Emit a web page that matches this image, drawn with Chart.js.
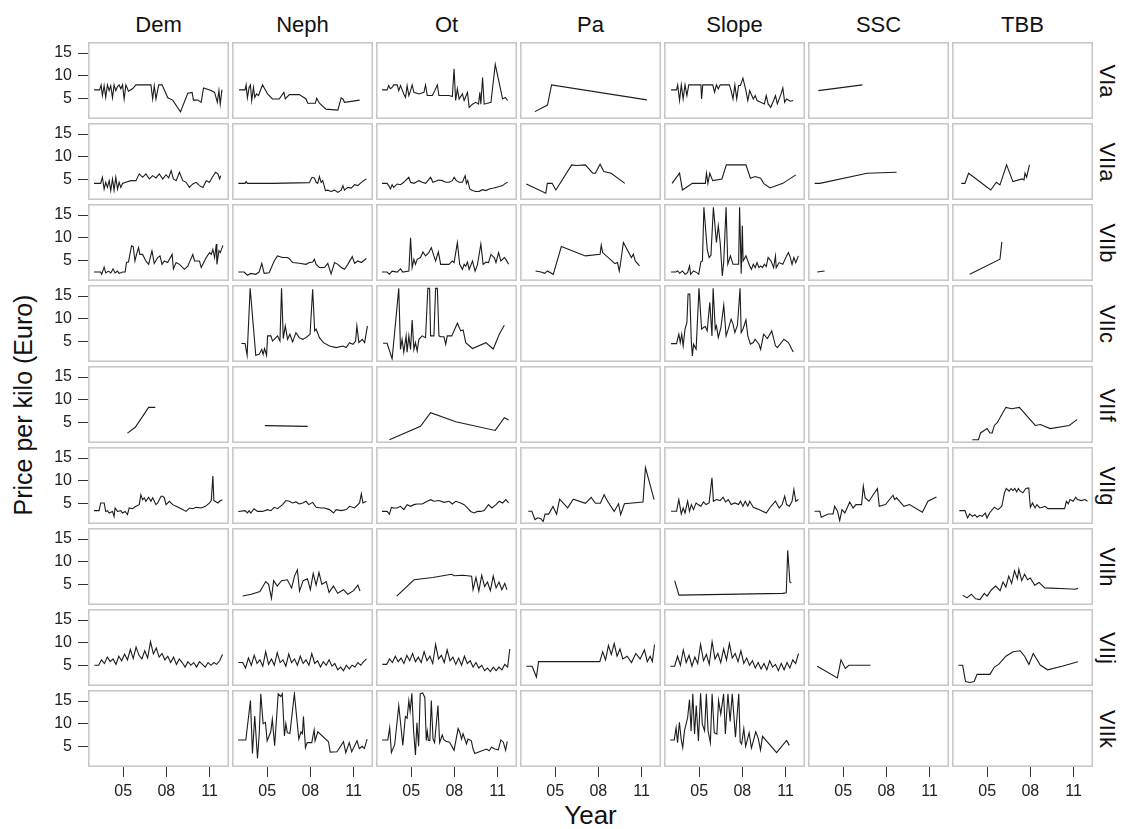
<!DOCTYPE html>
<html><head><meta charset="utf-8">
<script src="https://cdn.jsdelivr.net/npm/chart.js@4.4.1/dist/chart.umd.min.js"></script>
<style>
html,body{margin:0;padding:0;background:#fff;}
body{width:1123px;height:829px;position:relative;overflow:hidden;font-family:"Liberation Sans",Arial,sans-serif;color:#111;}
.lbl{position:absolute;white-space:nowrap;transform-origin:center center;line-height:1;}
.wrap{position:absolute;}
</style></head>
<body>
<script>
const columns = ["Dem","Neph","Ot","Pa","Slope","SSC","TBB"];
const rows = ["VIa","VIIa","VIIb","VIIc","VIIf","VIIg","VIIh","VIIj","VIIk"];
const yTicks = [5,10,15];
const xTicks = [2005,2008,2011];
const xTickLabels = ["05","08","11"];
const xTitle = "Year";
const yTitle = "Price per kilo (Euro)";

// ---- series: [year, price] ----
const Dem_VIa = [[2002.98,6.85],[2003.37,6.85],[2003.47,7.96],[2003.56,5.6],[2003.68,7.8],[2003.79,5.2],[2003.91,7.96],[2004.03,6.7],[2004.14,7.8],[2004.26,5.1],[2004.37,7.96],[2004.49,6.7],[2004.61,7.6],[2004.72,7.96],[2004.84,7.1],[2004.96,7.96],[2005.07,4.85],[2005.19,7.96],[2005.37,6.55],[2005.65,7.1],[2005.89,7.96],[2006.93,7.96],[2007.05,4.85],[2007.16,7.8],[2007.28,4.85],[2007.47,7.96],[2007.7,7.96],[2008.1,5.1],[2008.44,4.6],[2008.98,2.0],[2009.49,6.1],[2009.79,6.3],[2009.88,4.6],[2010.19,4.6],[2010.42,4.1],[2010.58,7.3],[2011.12,6.7],[2011.35,6.3],[2011.54,4.1],[2011.65,6.7],[2011.74,3.7],[2011.86,6.9]];
const Neph_VIa = [[2003.05,6.85],[2003.47,6.85],[2003.54,7.96],[2003.63,5.1],[2003.75,7.4],[2003.84,7.96],[2003.93,4.5],[2004.05,7.4],[2004.14,5.2],[2004.26,5.96],[2004.4,5.6],[2004.68,7.96],[2005.03,5.96],[2005.37,4.85],[2005.84,4.85],[2006.16,6.3],[2006.26,4.85],[2006.54,5.8],[2007.23,5.8],[2007.7,4.85],[2007.82,3.9],[2008.35,3.9],[2008.44,5.0],[2008.63,3.9],[2009.09,2.6],[2009.91,2.4],[2010.14,5.1],[2010.26,4.85],[2010.37,4.1],[2011.42,4.6]];
const Ot_VIa = [[2002.98,6.85],[2003.33,6.85],[2003.44,7.8],[2003.56,7.1],[2003.68,7.4],[2003.79,7.96],[2004.03,7.96],[2004.14,6.7],[2004.26,7.8],[2004.49,5.96],[2004.61,5.2],[2004.72,7.8],[2004.84,5.6],[2004.96,6.7],[2005.07,7.96],[2005.19,6.3],[2005.54,5.96],[2005.89,6.3],[2006.0,7.96],[2006.12,5.6],[2006.47,5.6],[2006.65,6.7],[2006.82,7.96],[2006.93,5.6],[2007.63,5.6],[2007.86,5.4],[2007.98,11.5],[2008.09,4.5],[2008.21,7.1],[2008.33,4.85],[2008.56,5.96],[2008.68,4.5],[2008.91,6.3],[2009.03,3.0],[2009.26,3.7],[2009.49,4.1],[2009.68,3.7],[2009.77,6.3],[2009.84,3.7],[2009.96,9.6],[2010.07,3.7],[2010.54,4.1],[2010.84,12.5],[2011.35,4.85],[2011.54,5.2],[2011.7,4.5]];
const Pa_VIa = [[2003.59,2.05],[2004.47,3.5],[2004.75,7.96],[2011.37,4.64]];
const Slope_VIa = [[2003.05,6.86],[2003.43,6.86],[2003.51,7.97],[2003.64,4.5],[2003.76,7.97],[2003.89,4.86],[2004.02,7.97],[2004.15,5.6],[2004.28,7.97],[2005.12,7.97],[2005.17,4.86],[2005.25,7.97],[2005.94,7.97],[2006.07,6.34],[2006.2,7.97],[2006.33,7.08],[2006.46,7.97],[2007.1,7.97],[2007.22,6.7],[2007.35,4.86],[2007.48,7.97],[2007.61,4.86],[2007.74,7.82],[2007.87,7.82],[2008.04,9.45],[2008.25,6.7],[2008.38,4.5],[2008.51,6.7],[2008.76,4.86],[2008.89,5.6],[2009.02,4.5],[2009.27,4.12],[2009.53,3.75],[2009.66,5.6],[2009.79,3.75],[2009.97,3.0],[2010.17,4.5],[2010.3,5.6],[2010.43,3.75],[2010.56,4.86],[2010.69,5.97],[2010.81,7.3],[2010.94,4.12],[2011.07,4.86],[2011.33,4.34],[2011.53,4.5]];
const SSC_VIa = [[2003.28,6.7],[2006.33,7.96]];

const Dem_VIIa = [[2002.98,4.1],[2003.44,4.1],[2003.56,5.44],[2003.68,2.85],[2003.79,4.33],[2003.91,3.2],[2004.03,4.7],[2004.14,2.5],[2004.26,5.07],[2004.37,2.6],[2004.49,5.44],[2004.61,2.85],[2004.72,4.33],[2004.84,3.2],[2004.96,4.1],[2005.19,4.33],[2005.54,4.7],[2005.89,4.7],[2006.12,6.2],[2006.35,5.44],[2006.58,6.2],[2006.82,5.07],[2007.05,5.8],[2007.28,5.3],[2007.51,6.2],[2007.75,5.07],[2007.98,6.0],[2008.16,5.3],[2008.33,6.9],[2008.49,5.07],[2008.68,4.7],[2008.91,6.55],[2009.14,4.7],[2009.37,4.33],[2009.6,3.2],[2009.84,3.96],[2010.07,4.33],[2010.3,3.6],[2010.54,3.2],[2010.77,4.7],[2011.0,4.33],[2011.19,5.44],[2011.42,6.55],[2011.58,6.2],[2011.7,5.07],[2011.77,5.8]];
const Neph_VIIa = [[2003.0,4.1],[2003.47,4.1],[2003.54,4.5],[2003.63,4.1],[2005.37,4.1],[2007.93,4.26],[2008.12,5.44],[2008.28,5.3],[2008.4,4.33],[2008.51,4.1],[2008.63,5.6],[2008.75,4.33],[2008.86,4.7],[2009.05,2.5],[2009.21,2.6],[2009.44,2.3],[2009.68,2.6],[2009.91,2.1],[2010.14,2.6],[2010.26,3.6],[2010.37,2.6],[2010.6,3.2],[2010.84,3.06],[2011.07,3.8],[2011.3,3.6],[2011.54,4.33],[2011.7,4.7],[2011.89,5.07]];
const Ot_VIIa = [[2002.98,4.1],[2003.33,4.1],[2003.44,3.6],[2003.56,2.85],[2003.68,3.8],[2003.79,3.2],[2004.03,3.96],[2004.26,3.8],[2004.49,4.33],[2004.65,4.85],[2004.84,5.44],[2004.96,4.33],[2005.19,4.1],[2005.54,4.7],[2005.77,4.33],[2006.0,4.1],[2006.35,5.44],[2006.51,4.33],[2006.7,4.55],[2006.93,4.85],[2007.16,4.7],[2007.4,4.33],[2007.63,4.33],[2007.86,4.7],[2007.98,5.44],[2008.14,4.7],[2008.33,4.33],[2008.56,4.33],[2008.75,5.8],[2008.84,4.1],[2008.93,4.7],[2009.07,2.85],[2009.26,2.5],[2009.49,2.3],[2009.72,2.33],[2009.96,2.7],[2010.19,2.5],[2010.42,2.85],[2010.65,3.0],[2010.89,3.2],[2011.12,3.4],[2011.35,3.6],[2011.54,4.1],[2011.7,4.33]];
const Pa_VIIa = [[2003.0,3.97],[2004.35,1.9],[2004.46,4.1],[2004.79,4.1],[2005.05,2.64],[2006.15,8.19],[2006.46,8.04],[2007.1,8.19],[2007.61,6.34],[2007.79,6.34],[2008.12,8.34],[2008.38,6.71],[2008.89,6.34],[2009.84,4.1]];
const Slope_VIIa = [[2003.12,4.1],[2003.64,6.34],[2003.84,2.64],[2004.53,4.1],[2005.43,4.1],[2005.51,6.34],[2005.61,4.1],[2005.74,6.34],[2005.94,4.71],[2006.58,5.08],[2006.89,8.19],[2008.25,8.19],[2008.56,5.23],[2008.89,5.6],[2009.27,5.23],[2009.48,4.1],[2009.92,3.08],[2010.81,4.1],[2011.71,5.97]];
const SSC_VIIa = [[2003.02,4.1],[2003.38,4.1],[2006.66,6.34],[2008.71,6.56]];
const TBB_VIIa = [[2003.2,4.1],[2003.46,4.1],[2003.71,6.34],[2005.25,2.64],[2005.64,4.34],[2005.89,3.75],[2006.35,8.19],[2006.79,4.49],[2007.43,5.08],[2007.56,4.86],[2007.63,6.34],[2007.74,5.45],[2007.94,8.19]];

const Dem_VIIb = [[2002.98,2.4],[2003.44,2.4],[2003.51,1.9],[2003.68,3.5],[2003.79,2.2],[2003.98,2.6],[2004.14,2.2],[2004.3,3.1],[2004.44,2.2],[2004.61,2.6],[2004.72,2.1],[2004.96,2.4],[2005.14,2.4],[2005.23,4.5],[2005.37,4.6],[2005.58,8.2],[2005.7,8.0],[2005.82,4.85],[2005.93,6.3],[2006.07,7.8],[2006.16,6.3],[2006.35,6.3],[2006.58,4.85],[2006.77,4.1],[2007.0,7.1],[2007.16,4.3],[2007.4,5.6],[2007.56,5.96],[2007.7,4.1],[2007.86,4.85],[2008.09,4.5],[2008.4,6.3],[2008.49,3.1],[2008.68,4.5],[2008.91,4.1],[2009.26,3.0],[2009.49,3.7],[2009.84,6.3],[2009.96,4.85],[2010.3,4.85],[2010.42,3.4],[2010.77,5.6],[2011.0,6.7],[2011.12,6.3],[2011.23,7.4],[2011.35,5.6],[2011.47,8.6],[2011.51,4.1],[2011.65,7.1],[2011.74,6.7],[2011.93,8.3]];
const Neph_VIIb = [[2003.0,2.4],[2003.4,2.4],[2003.63,1.7],[2003.86,2.1],[2004.21,1.9],[2004.44,2.4],[2004.63,4.3],[2004.79,2.1],[2005.14,2.26],[2005.49,4.85],[2005.72,5.96],[2006.07,5.6],[2006.42,5.6],[2006.58,5.2],[2006.77,4.5],[2007.23,4.33],[2007.7,4.1],[2007.93,4.5],[2008.16,4.6],[2008.28,5.2],[2008.4,4.1],[2008.63,3.4],[2008.98,3.4],[2009.21,4.33],[2009.44,2.0],[2009.68,4.5],[2009.91,4.1],[2010.14,3.4],[2010.37,3.0],[2010.6,4.1],[2010.91,5.8],[2011.07,4.33],[2011.3,4.85],[2011.54,4.5],[2011.89,5.4]];
const Ot_VIIb = [[2002.98,2.4],[2003.33,2.4],[2003.49,1.9],[2003.68,2.6],[2004.03,2.4],[2004.26,3.1],[2004.42,2.4],[2004.84,2.6],[2004.96,10.0],[2005.07,3.4],[2005.19,5.2],[2005.3,4.1],[2005.42,5.2],[2005.65,5.6],[2005.82,6.85],[2006.0,5.96],[2006.23,6.7],[2006.4,7.8],[2006.58,5.96],[2006.7,4.85],[2006.89,6.85],[2007.05,4.1],[2007.28,4.1],[2007.63,4.1],[2007.86,4.85],[2007.98,4.5],[2008.21,8.9],[2008.37,4.1],[2008.56,3.0],[2008.68,4.1],[2008.79,3.7],[2008.91,4.6],[2009.03,3.0],[2009.26,4.85],[2009.44,2.6],[2009.61,4.1],[2009.84,8.6],[2010.0,4.1],[2010.19,4.6],[2010.37,4.5],[2010.54,6.3],[2010.77,5.6],[2010.89,4.5],[2011.07,6.7],[2011.23,4.85],[2011.47,5.6],[2011.58,5.2],[2011.77,4.1]];
const Pa_VIIb = [[2003.64,2.64],[2004.02,2.42],[2004.28,2.12],[2004.46,2.64],[2004.87,1.9],[2005.43,8.04],[2007.1,5.97],[2008.12,6.34],[2008.2,8.34],[2008.3,6.71],[2009.15,4.27],[2009.33,4.49],[2009.45,2.64],[2009.53,4.12],[2009.74,8.93],[2010.17,6.34],[2010.3,5.6],[2010.43,6.34],[2010.56,4.86],[2010.86,3.75]];
const Slope_VIIb = [[2003.05,2.42],[2003.38,2.42],[2003.51,2.64],[2003.64,2.12],[2003.84,2.64],[2004.02,1.9],[2004.2,2.27],[2004.33,3.75],[2004.41,1.9],[2004.61,2.64],[2004.84,2.27],[2004.97,1.9],[2005.12,4.64],[2005.23,4.86],[2005.33,16.7],[2005.56,7.45],[2005.69,5.6],[2005.82,6.12],[2005.99,16.7],[2006.2,8.93],[2006.33,12.63],[2006.46,8.93],[2006.61,1.53],[2006.71,4.86],[2006.87,16.7],[2006.99,4.12],[2007.17,5.97],[2007.35,4.12],[2007.74,4.12],[2007.81,16.7],[2007.92,2.05],[2008.0,12.63],[2008.05,4.86],[2008.25,5.97],[2008.51,3.75],[2008.63,3.0],[2008.76,4.12],[2008.89,3.38],[2009.02,4.49],[2009.15,3.38],[2009.27,3.75],[2009.4,3.38],[2009.53,4.12],[2009.66,3.6],[2009.79,5.6],[2009.99,4.86],[2010.17,3.38],[2010.3,5.97],[2010.35,3.38],[2010.56,4.49],[2010.81,4.12],[2011.07,5.97],[2011.2,6.71],[2011.33,5.6],[2011.45,4.12],[2011.58,5.6],[2011.71,4.49],[2011.89,5.97]];
const SSC_VIIb = [[2003.2,2.42],[2003.71,2.64]];
const TBB_VIIb = [[2003.79,1.9],[2005.89,5.23],[2006.02,9.08]];

const Neph_VIIc = [[2003.21,4.5],[2003.47,4.5],[2003.61,1.9],[2003.82,16.7],[2004.21,1.9],[2004.44,2.1],[2004.63,3.2],[2004.72,2.1],[2004.82,3.4],[2004.96,1.9],[2005.03,6.2],[2005.26,6.2],[2005.37,5.07],[2005.49,5.44],[2005.72,6.2],[2005.89,5.07],[2006.0,16.7],[2006.12,5.6],[2006.26,8.4],[2006.42,5.44],[2006.58,6.55],[2006.77,4.85],[2007.0,6.9],[2007.23,5.8],[2007.47,5.44],[2007.7,5.8],[2007.98,6.55],[2008.16,16.5],[2008.3,7.3],[2008.4,7.7],[2008.63,5.8],[2008.91,4.7],[2009.33,3.96],[2009.79,3.6],[2010.26,3.96],[2010.49,3.6],[2010.72,4.7],[2010.96,4.33],[2011.14,5.07],[2011.23,8.4],[2011.37,4.7],[2011.6,5.44],[2011.77,4.7],[2011.96,8.4]];
const Ot_VIIc = [[2003.05,4.55],[2003.33,4.55],[2003.68,1.14],[2004.14,16.7],[2004.26,3.2],[2004.37,5.44],[2004.49,2.6],[2004.65,6.2],[2004.72,2.6],[2004.84,6.2],[2004.96,3.2],[2005.07,9.7],[2005.19,3.2],[2005.3,4.7],[2005.42,2.85],[2005.54,5.44],[2005.77,6.2],[2006.0,5.8],[2006.16,16.7],[2006.28,16.7],[2006.35,6.2],[2006.58,6.2],[2006.7,16.7],[2006.82,16.7],[2006.93,6.2],[2007.05,6.0],[2007.28,6.0],[2007.4,4.33],[2007.51,6.2],[2007.82,6.2],[2008.21,9.0],[2008.44,7.3],[2008.61,7.5],[2008.79,4.7],[2009.26,3.4],[2010.19,4.7],[2010.7,3.3],[2011.12,6.55],[2011.47,8.55]];
const Slope_VIIc = [[2003.05,4.49],[2003.43,4.49],[2003.59,6.56],[2003.69,4.71],[2003.79,6.56],[2003.89,4.0],[2004.02,7.67],[2004.15,9.15],[2004.23,15.44],[2004.35,15.44],[2004.46,4.71],[2004.53,1.75],[2004.61,4.34],[2004.79,3.23],[2004.99,16.7],[2005.17,7.67],[2005.3,8.04],[2005.43,8.26],[2005.56,7.3],[2005.74,13.59],[2005.89,6.19],[2005.97,16.7],[2006.12,7.67],[2006.2,8.41],[2006.33,5.82],[2006.51,8.04],[2006.71,13.0],[2006.87,6.19],[2007.02,7.67],[2007.22,9.89],[2007.35,8.78],[2007.48,6.93],[2007.66,8.56],[2007.84,16.7],[2007.92,6.93],[2008.04,7.67],[2008.25,9.74],[2008.38,6.19],[2008.56,4.34],[2008.76,4.71],[2008.89,5.45],[2009.15,4.34],[2009.27,3.23],[2009.48,6.56],[2009.74,5.6],[2010.04,7.3],[2010.3,4.0],[2010.43,3.6],[2010.89,5.45],[2011.2,4.71],[2011.53,2.64]];

const Dem_VIIf = [[2005.3,2.6],[2005.84,3.9],[2006.77,8.3],[2007.23,8.3]];
const Neph_VIIf = [[2004.84,4.26],[2007.82,4.1]];
const Ot_VIIf = [[2003.49,1.15],[2005.65,4.1],[2006.35,7.1],[2008.1,5.1],[2010.84,3.2],[2011.47,6.0],[2011.77,5.5]];
const TBB_VIIf = [[2003.97,1.15],[2004.4,1.15],[2004.54,2.64],[2005.0,3.6],[2005.2,2.64],[2005.35,2.64],[2005.5,4.3],[2005.7,4.9],[2006.3,8.3],[2006.7,8.0],[2007.24,8.3],[2008.34,4.3],[2008.7,4.5],[2009.37,3.6],[2010.7,4.3],[2011.24,5.6]];

const Dem_VIIg = [[2002.98,3.37],[2003.33,3.37],[2003.44,5.07],[2003.68,5.07],[2003.79,3.2],[2003.91,3.37],[2004.03,2.85],[2004.26,3.2],[2004.37,2.1],[2004.44,3.96],[2004.61,3.2],[2004.84,3.37],[2004.96,2.85],[2005.14,3.2],[2005.3,2.5],[2005.42,3.96],[2005.65,3.8],[2005.89,4.33],[2006.12,4.7],[2006.23,6.9],[2006.35,5.8],[2006.47,6.2],[2006.58,5.44],[2006.77,6.33],[2006.93,5.44],[2007.05,6.2],[2007.28,4.7],[2007.4,5.07],[2007.63,6.55],[2007.75,6.55],[2007.86,6.2],[2007.98,4.7],[2008.21,5.44],[2008.44,4.7],[2008.68,4.33],[2009.03,3.8],[2009.37,3.2],[2009.61,3.96],[2009.84,3.8],[2010.07,4.1],[2010.42,3.96],[2010.72,4.33],[2011.0,5.07],[2011.12,5.6],[2011.23,11.0],[2011.3,5.6],[2011.47,5.3],[2011.58,5.07],[2011.7,5.44],[2011.89,5.8]];
const Neph_VIIg = [[2003.0,3.2],[2003.47,3.37],[2003.63,2.85],[2003.75,3.37],[2003.86,2.85],[2004.09,3.8],[2004.33,3.2],[2004.68,3.2],[2005.03,3.6],[2005.26,3.37],[2005.49,4.1],[2005.72,3.8],[2006.07,4.7],[2006.3,5.6],[2006.54,5.44],[2006.77,5.07],[2007.0,5.3],[2007.23,4.85],[2007.47,5.07],[2007.7,5.44],[2007.89,4.7],[2008.16,5.2],[2008.4,4.1],[2008.75,3.96],[2008.98,3.96],[2009.33,3.6],[2009.61,2.85],[2009.79,3.6],[2010.14,3.37],[2010.49,3.6],[2010.72,4.33],[2011.07,3.96],[2011.3,4.7],[2011.42,5.07],[2011.54,7.07],[2011.65,5.07],[2011.89,5.44]];
const Ot_VIIg = [[2002.98,3.2],[2003.33,3.2],[2003.49,2.6],[2003.63,4.1],[2003.79,3.96],[2004.03,3.96],[2004.26,4.33],[2004.49,3.6],[2004.72,4.7],[2004.96,4.33],[2005.19,4.7],[2005.42,4.85],[2005.77,4.85],[2006.12,5.44],[2006.35,5.8],[2006.58,5.44],[2006.93,5.6],[2007.28,5.2],[2007.63,5.44],[2007.86,4.85],[2008.09,5.44],[2008.44,5.07],[2008.68,4.7],[2008.91,3.96],[2009.14,3.2],[2009.37,2.85],[2009.61,3.2],[2009.84,3.2],[2010.07,3.4],[2010.37,4.7],[2010.61,3.96],[2010.89,4.7],[2011.12,5.44],[2011.35,5.07],[2011.58,5.8],[2011.77,5.07]];
const Pa_VIIg = [[2003.13,3.23],[2003.38,3.23],[2003.6,1.4],[2003.8,1.8],[2004.0,1.6],[2004.17,1.0],[2004.3,2.6],[2004.55,2.6],[2004.85,4.3],[2005.1,2.6],[2005.31,5.9],[2005.87,4.0],[2006.26,5.9],[2007.1,5.0],[2007.5,6.3],[2007.8,5.0],[2008.14,5.0],[2008.4,6.9],[2008.65,5.4],[2009.1,3.2],[2009.4,4.9],[2009.55,2.5],[2009.81,4.9],[2011.1,5.3],[2011.27,12.9],[2011.87,5.8]];
const Slope_VIIg = [[2003.05,3.23],[2003.43,3.23],[2003.59,5.82],[2003.76,2.64],[2003.89,3.97],[2004.02,2.86],[2004.2,5.45],[2004.33,3.23],[2004.46,4.71],[2004.61,3.6],[2004.79,5.08],[2004.92,4.71],[2005.12,4.34],[2005.3,5.3],[2005.48,4.71],[2005.69,5.08],[2005.89,10.63],[2005.99,5.45],[2006.2,5.82],[2006.46,5.6],[2006.66,6.34],[2006.84,5.3],[2007.02,5.82],[2007.22,4.71],[2007.48,5.08],[2007.74,4.71],[2007.87,5.45],[2008.04,4.34],[2008.2,5.45],[2008.38,4.34],[2008.51,5.45],[2008.76,4.12],[2009.15,3.6],[2009.4,3.23],[2009.66,2.86],[2009.99,4.34],[2010.3,5.45],[2010.56,3.97],[2010.76,4.71],[2010.94,6.56],[2011.07,4.71],[2011.27,4.34],[2011.45,5.45],[2011.58,8.04],[2011.71,5.45],[2011.89,5.82]];
const SSC_VIIg = [[2003.02,3.23],[2003.38,3.23],[2003.48,1.9],[2003.97,2.64],[2004.3,2.64],[2004.41,4.34],[2004.61,3.23],[2004.76,1.16],[2004.92,3.6],[2005.12,2.86],[2005.46,5.3],[2005.69,3.97],[2005.89,4.71],[2006.28,4.71],[2006.4,8.78],[2006.53,6.19],[2006.79,5.45],[2007.38,8.26],[2007.51,4.34],[2007.94,4.71],[2008.46,6.78],[2008.58,5.82],[2008.71,6.19],[2009.22,4.34],[2009.61,4.71],[2010.5,3.01],[2010.89,5.45],[2011.48,6.41]];
const TBB_VIIg = [[2003.07,3.38],[2003.46,3.38],[2003.64,1.75],[2003.79,2.64],[2003.97,2.12],[2004.15,2.49],[2004.3,1.9],[2004.48,2.34],[2004.66,2.12],[2004.87,2.86],[2004.99,1.75],[2005.17,2.86],[2005.5,4.12],[2005.76,3.6],[2006.02,4.34],[2006.2,7.3],[2006.33,8.26],[2006.53,7.67],[2006.66,8.26],[2006.79,7.82],[2006.92,8.26],[2007.05,7.52],[2007.17,8.26],[2007.3,7.67],[2007.48,7.3],[2007.69,8.26],[2007.89,8.41],[2008.0,4.12],[2008.15,5.08],[2008.33,3.97],[2008.46,4.71],[2008.66,3.97],[2008.84,4.12],[2009.02,4.34],[2009.22,3.82],[2010.38,3.82],[2010.5,5.45],[2010.63,4.86],[2010.76,5.82],[2010.97,5.45],[2011.15,6.34],[2011.27,5.82],[2011.53,5.6],[2011.79,5.82],[2011.97,5.45]];

const Neph_VIIh = [[2003.3,2.4],[2003.9,2.8],[2004.5,3.4],[2004.9,5.6],[2005.1,5.0],[2005.3,1.9],[2005.45,5.8],[2005.7,4.6],[2006.0,5.8],[2006.4,6.0],[2006.7,4.2],[2006.9,6.8],[2007.1,8.2],[2007.25,3.5],[2007.5,5.8],[2007.8,6.2],[2008.0,3.8],[2008.2,7.4],[2008.4,4.8],[2008.6,7.6],[2008.8,5.0],[2009.1,5.6],[2009.3,3.2],[2009.6,4.6],[2009.9,3.0],[2010.3,3.8],[2010.6,2.8],[2011.0,3.6],[2011.3,4.8],[2011.45,3.5]];
const Ot_VIIh = [[2004.0,2.4],[2005.2,6.0],[2006.5,6.5],[2007.8,7.2],[2008.0,6.9],[2008.6,7.0],[2009.2,6.8],[2009.3,3.8],[2009.5,6.5],[2009.7,3.5],[2009.9,7.0],[2010.1,4.5],[2010.3,5.5],[2010.5,3.6],[2010.7,6.8],[2010.9,4.2],[2011.1,5.5],[2011.3,3.8],[2011.5,5.2],[2011.65,3.8]];
const Slope_VIIh = [[2003.3,5.8],[2003.6,2.6],[2010.8,3.0],[2011.05,3.1],[2011.15,12.5],[2011.3,5.5],[2011.4,5.3]];
const TBB_VIIh = [[2003.3,2.6],[2003.6,2.0],[2003.9,2.8],[2004.2,1.8],[2004.5,1.6],[2004.8,3.0],[2005.0,2.4],[2005.3,3.8],[2005.6,4.6],[2005.9,3.6],[2006.1,5.5],[2006.3,4.4],[2006.5,6.8],[2006.7,5.2],[2006.9,8.0],[2007.1,6.2],[2007.2,8.3],[2007.4,5.8],[2007.6,7.2],[2007.8,6.0],[2008.0,6.4],[2008.3,4.8],[2008.6,5.4],[2009.0,4.2],[2010.5,4.0],[2011.1,3.9],[2011.3,4.1]];

const Dem_VIIj = [[2003.0,5.0],[2003.3,5.0],[2003.5,6.2],[2003.7,5.4],[2003.9,6.8],[2004.1,5.8],[2004.3,6.4],[2004.5,5.2],[2004.7,7.0],[2004.9,6.0],[2005.1,7.5],[2005.3,6.2],[2005.5,8.5],[2005.7,6.5],[2005.9,9.0],[2006.1,7.2],[2006.3,6.4],[2006.5,8.2],[2006.7,6.6],[2006.9,10.2],[2007.1,7.5],[2007.3,8.8],[2007.5,6.8],[2007.7,7.6],[2007.9,6.2],[2008.1,7.0],[2008.3,5.6],[2008.5,6.8],[2008.7,5.2],[2008.9,6.4],[2009.1,5.6],[2009.3,4.6],[2009.5,5.8],[2009.7,5.0],[2009.9,5.6],[2010.1,4.6],[2010.3,5.8],[2010.5,5.2],[2010.7,4.6],[2010.9,5.6],[2011.1,5.0],[2011.3,5.6],[2011.5,5.2],[2011.7,6.0],[2011.9,7.4]];
const Neph_VIIj = [[2003.0,5.6],[2003.3,5.6],[2003.5,4.4],[2003.7,6.6],[2003.9,5.0],[2004.1,7.2],[2004.3,5.4],[2004.5,6.2],[2004.7,4.8],[2004.9,8.0],[2005.1,5.2],[2005.3,6.4],[2005.5,5.0],[2005.7,7.8],[2005.9,5.6],[2006.1,6.2],[2006.3,4.8],[2006.5,7.5],[2006.7,5.6],[2006.9,6.4],[2007.1,5.0],[2007.3,7.0],[2007.5,5.4],[2007.7,6.2],[2007.9,5.0],[2008.1,7.6],[2008.3,5.4],[2008.5,6.0],[2008.7,4.6],[2008.9,5.8],[2009.1,5.0],[2009.3,6.2],[2009.5,4.8],[2009.7,5.4],[2009.9,4.0],[2010.1,4.6],[2010.3,3.8],[2010.5,5.0],[2010.7,4.2],[2010.9,5.0],[2011.1,4.6],[2011.3,5.6],[2011.5,5.0],[2011.7,5.8],[2011.9,6.4]];
const Ot_VIIj = [[2003.0,5.2],[2003.3,5.2],[2003.5,6.4],[2003.7,5.6],[2003.9,7.0],[2004.1,5.8],[2004.3,6.6],[2004.5,5.4],[2004.7,7.2],[2004.9,6.0],[2005.1,7.6],[2005.3,5.8],[2005.5,6.8],[2005.7,5.6],[2005.9,8.0],[2006.1,6.0],[2006.3,7.0],[2006.5,5.4],[2006.7,9.6],[2006.9,6.4],[2007.1,7.2],[2007.3,5.6],[2007.5,8.4],[2007.7,6.0],[2007.9,6.8],[2008.1,5.2],[2008.3,6.6],[2008.5,5.0],[2008.7,7.0],[2008.9,5.4],[2009.1,6.0],[2009.3,4.6],[2009.5,5.6],[2009.7,4.4],[2009.9,5.0],[2010.1,3.8],[2010.3,4.4],[2010.5,3.6],[2010.7,4.6],[2010.9,3.8],[2011.1,4.6],[2011.3,4.0],[2011.5,5.2],[2011.7,4.6],[2011.85,8.6]];
const Pa_VIIj = [[2003.0,4.8],[2003.4,4.8],[2003.7,2.4],[2003.85,5.8],[2008.1,5.8],[2008.3,8.0],[2008.5,6.2],[2008.7,9.4],[2008.9,7.4],[2009.1,9.8],[2009.3,7.0],[2009.5,8.6],[2009.7,6.4],[2010.0,7.0],[2010.3,5.6],[2010.6,7.6],[2010.9,6.4],[2011.2,8.4],[2011.4,5.8],[2011.6,7.0],[2011.75,5.8],[2011.9,9.6]];
const Slope_VIIj = [[2003.0,4.8],[2003.3,4.8],[2003.5,7.0],[2003.7,5.0],[2003.9,8.4],[2004.1,5.6],[2004.3,7.2],[2004.5,4.8],[2004.7,6.8],[2004.9,5.4],[2005.1,9.6],[2005.3,6.0],[2005.5,7.4],[2005.7,5.2],[2005.9,10.2],[2006.1,6.4],[2006.3,7.6],[2006.5,5.6],[2006.7,8.6],[2006.9,6.2],[2007.1,9.8],[2007.3,6.6],[2007.5,7.6],[2007.7,5.8],[2007.9,8.2],[2008.1,5.4],[2008.3,6.6],[2008.5,5.0],[2008.7,6.0],[2008.9,4.4],[2009.1,5.6],[2009.3,4.2],[2009.5,5.4],[2009.7,4.0],[2009.9,6.0],[2010.1,4.6],[2010.3,5.2],[2010.5,3.8],[2010.7,5.4],[2010.9,4.0],[2011.1,5.6],[2011.3,4.4],[2011.5,6.2],[2011.7,5.4],[2011.9,7.6]];
const SSC_VIIj = [[2003.2,4.8],[2004.6,2.2],[2004.85,6.2],[2005.15,4.3],[2005.4,5.0],[2006.9,5.0]];
const TBB_VIIj = [[2003.0,5.0],[2003.3,5.0],[2003.5,1.4],[2003.8,1.2],[2004.1,1.4],[2004.3,3.0],[2004.7,3.0],[2005.2,3.0],[2005.5,4.6],[2005.8,5.2],[2006.3,7.0],[2006.8,8.0],[2007.3,8.2],[2007.6,7.0],[2007.9,5.2],[2008.2,7.6],[2008.7,5.0],[2009.2,4.0],[2010.2,4.8],[2011.3,5.8]];

const Neph_VIIk = [[2002.98,6.4],[2003.52,6.4],[2003.84,15.1],[2003.98,3.4],[2004.14,11.7],[2004.33,2.3],[2004.45,7.7],[2004.56,16.6],[2004.72,10.0],[2004.88,10.3],[2005.0,6.2],[2005.25,8.2],[2005.36,11.0],[2005.52,5.1],[2005.77,16.6],[2005.95,16.0],[2006.05,16.6],[2006.2,7.3],[2006.3,10.0],[2006.4,8.0],[2006.58,7.8],[2006.89,16.6],[2007.2,6.6],[2007.35,8.2],[2007.45,7.8],[2007.52,11.6],[2007.66,4.7],[2007.78,5.8],[2008.1,5.8],[2008.26,8.6],[2008.33,6.2],[2008.52,8.2],[2009.26,6.0],[2009.38,3.7],[2009.85,3.8],[2010.3,6.0],[2010.46,3.6],[2010.7,5.8],[2010.87,3.8],[2011.24,6.2],[2011.4,4.5],[2011.6,5.0],[2011.75,4.5],[2011.94,6.6]];
const Ot_VIIk = [[2002.98,6.4],[2003.38,6.4],[2003.51,9.1],[2003.63,3.6],[2003.86,5.4],[2004.14,14.0],[2004.3,9.1],[2004.42,5.2],[2004.6,11.6],[2004.72,11.2],[2004.84,15.1],[2004.93,12.8],[2005.05,16.7],[2005.17,8.4],[2005.3,3.1],[2005.4,10.2],[2005.52,5.0],[2005.63,16.6],[2005.8,16.8],[2005.95,15.8],[2006.05,6.3],[2006.12,8.3],[2006.2,6.3],[2006.3,6.3],[2006.4,15.1],[2006.52,6.6],[2006.63,5.8],[2006.86,14.0],[2006.98,5.8],[2007.16,7.5],[2007.26,6.5],[2007.42,6.1],[2007.67,5.9],[2007.98,4.1],[2008.26,8.9],[2008.38,8.1],[2008.5,6.6],[2008.6,7.8],[2008.84,5.5],[2008.95,6.6],[2009.18,6.2],[2009.3,4.4],[2009.42,3.4],[2010.23,4.4],[2010.42,4.0],[2010.58,4.8],[2010.81,4.4],[2011.05,4.2],[2011.23,6.4],[2011.4,5.9],[2011.56,4.1],[2011.67,6.1]];
const Slope_VIIk = [[2002.99,6.4],[2003.27,6.4],[2003.4,9.1],[2003.5,5.8],[2003.63,10.3],[2003.75,6.6],[2003.86,4.7],[2003.98,8.4],[2004.2,11.3],[2004.33,15.3],[2004.44,8.4],[2004.56,16.6],[2004.68,7.7],[2004.8,14.0],[2004.95,6.2],[2005.1,16.7],[2005.22,9.9],[2005.38,8.4],[2005.5,16.6],[2005.62,8.4],[2005.78,5.8],[2005.9,16.6],[2006.05,8.0],[2006.23,7.7],[2006.35,15.1],[2006.5,12.1],[2006.7,16.6],[2006.82,7.7],[2007.0,16.6],[2007.15,10.5],[2007.3,16.6],[2007.52,7.0],[2007.75,16.6],[2007.85,6.0],[2007.95,5.5],[2008.1,8.9],[2008.23,5.0],[2008.47,8.0],[2008.63,4.6],[2008.93,8.2],[2009.1,6.8],[2009.26,4.2],[2009.4,7.2],[2010.38,3.6],[2011.07,6.3],[2011.26,5.2]];

const seriesTable = {
  "Dem|VIa":Dem_VIa,"Neph|VIa":Neph_VIa,"Ot|VIa":Ot_VIa,"Pa|VIa":Pa_VIa,"Slope|VIa":Slope_VIa,"SSC|VIa":SSC_VIa,
  "Dem|VIIa":Dem_VIIa,"Neph|VIIa":Neph_VIIa,"Ot|VIIa":Ot_VIIa,"Pa|VIIa":Pa_VIIa,"Slope|VIIa":Slope_VIIa,"SSC|VIIa":SSC_VIIa,"TBB|VIIa":TBB_VIIa,
  "Dem|VIIb":Dem_VIIb,"Neph|VIIb":Neph_VIIb,"Ot|VIIb":Ot_VIIb,"Pa|VIIb":Pa_VIIb,"Slope|VIIb":Slope_VIIb,"SSC|VIIb":SSC_VIIb,"TBB|VIIb":TBB_VIIb,
  "Neph|VIIc":Neph_VIIc,"Ot|VIIc":Ot_VIIc,"Slope|VIIc":Slope_VIIc,
  "Dem|VIIf":Dem_VIIf,"Neph|VIIf":Neph_VIIf,"Ot|VIIf":Ot_VIIf,"TBB|VIIf":TBB_VIIf,
  "Dem|VIIg":Dem_VIIg,"Neph|VIIg":Neph_VIIg,"Ot|VIIg":Ot_VIIg,"Pa|VIIg":Pa_VIIg,"Slope|VIIg":Slope_VIIg,"SSC|VIIg":SSC_VIIg,"TBB|VIIg":TBB_VIIg,
  "Neph|VIIh":Neph_VIIh,"Ot|VIIh":Ot_VIIh,"Slope|VIIh":Slope_VIIh,"TBB|VIIh":TBB_VIIh,
  "Dem|VIIj":Dem_VIIj,"Neph|VIIj":Neph_VIIj,"Ot|VIIj":Ot_VIIj,"Pa|VIIj":Pa_VIIj,"Slope|VIIj":Slope_VIIj,"SSC|VIIj":SSC_VIIj,"TBB|VIIj":TBB_VIIj,
  "Neph|VIIk":Neph_VIIk,"Ot|VIIk":Ot_VIIk,"Slope|VIIk":Slope_VIIk
};

// ---- layout ----
const X_MIN = 2002.56, X_MAX = 2012.35, Y_MIN = 0.42, Y_MAX = 17.44;
const PX0 = 88, PY0 = 42, PW = 141, PH = 77, DX = 144, DY = 81;
const YAX = 60, XAX = 50;
const FONT = '"Liberation Sans", Arial, sans-serif';
Chart.defaults.font.family = FONT;

function addLabel(text, cx, cy, size, rot){
  const d = document.createElement('div');
  d.className = 'lbl';
  d.textContent = text;
  d.style.fontSize = size + 'px';
  d.style.left = cx + 'px';
  d.style.top = cy + 'px';
  d.style.transform = 'translate(-50%,-50%)' + (rot ? ' rotate(' + rot + 'deg)' : '');
  document.body.appendChild(d);
}

const framePlugin = {
  id: 'panelFrame',
  afterDatasetsDraw(chart){
    const a = chart.chartArea, ctx = chart.ctx;
    ctx.save();
    ctx.strokeStyle = '#c9c9c9';
    ctx.lineWidth = 1.6;
    ctx.strokeRect(a.left + 0.8, a.top + 0.8, a.right - a.left - 1.6, a.bottom - a.top - 1.6);
    ctx.restore();
  }
};

columns.forEach((c, ci) => addLabel(c, PX0 + ci*DX + PW/2, 25, 22, 0));
rows.forEach((r, ri) => addLabel(r, 1107, PY0 + ri*DY + PH/2, 22, 90));
addLabel(yTitle, 23, PY0 + (rows.length*DY - (DY-PH))/2, 25, -90);
addLabel(xTitle, PX0 + (columns.length*DX - (DX-PW))/2, 815, 26, 0);

rows.forEach((r, ri) => {
  columns.forEach((c, ci) => {
    const isLeft = ci === 0, isBottom = ri === rows.length - 1;
    const w = PW + (isLeft ? YAX : 0), h = PH + (isBottom ? XAX : 0);
    const wrap = document.createElement('div');
    wrap.className = 'wrap';
    wrap.style.left = (PX0 + ci*DX - (isLeft ? YAX : 0)) + 'px';
    wrap.style.top = (PY0 + ri*DY) + 'px';
    wrap.style.width = w + 'px';
    wrap.style.height = h + 'px';
    const cv = document.createElement('canvas');
    wrap.appendChild(cv);
    document.body.appendChild(wrap);
    const pts = (seriesTable[c + '|' + r] || []).map(p => ({x: p[0], y: p[1]}));
    const xScale = {
      type: 'linear', min: X_MIN, max: X_MAX, display: isBottom,
      afterBuildTicks: s => { s.ticks = xTicks.map(v => ({value: v})); },
      ticks: { callback: v => xTickLabels[xTicks.indexOf(v)], autoSkip: false, maxRotation: 0, padding: 5, color: '#222', font: { size: 16, family: FONT } },
      grid: { drawOnChartArea: false, drawTicks: true, tickLength: 10, color: '#333', lineWidth: 1 },
      border: { display: false }
    };
    if (isBottom) xScale.afterFit = s => { s.height = XAX; s.paddingLeft = 0; s.paddingRight = 0; };
    const yScale = {
      type: 'linear', min: Y_MIN, max: Y_MAX, display: isLeft,
      afterBuildTicks: s => { s.ticks = yTicks.map(v => ({value: v})); },
      ticks: { autoSkip: false, padding: 6, color: '#222', font: { size: 16, family: FONT } },
      grid: { drawOnChartArea: false, drawTicks: true, tickLength: 10, color: '#333', lineWidth: 1 },
      border: { display: false }
    };
    if (isLeft) yScale.afterFit = s => { s.width = YAX; s.paddingTop = 0; s.paddingBottom = 0; };
    new Chart(cv, {
      type: 'line',
      data: { datasets: [{ data: pts, borderColor: '#1c1c1c', borderWidth: 1.1, pointRadius: 0, tension: 0, fill: false }] },
      plugins: [framePlugin],
      options: {
        responsive: true, maintainAspectRatio: false, animation: false, devicePixelRatio: 1,
        layout: { padding: 0 },
        plugins: { legend: { display: false }, tooltip: { enabled: false } },
        scales: { x: xScale, y: yScale }
      }
    });
  });
});
</script>
</body></html>
